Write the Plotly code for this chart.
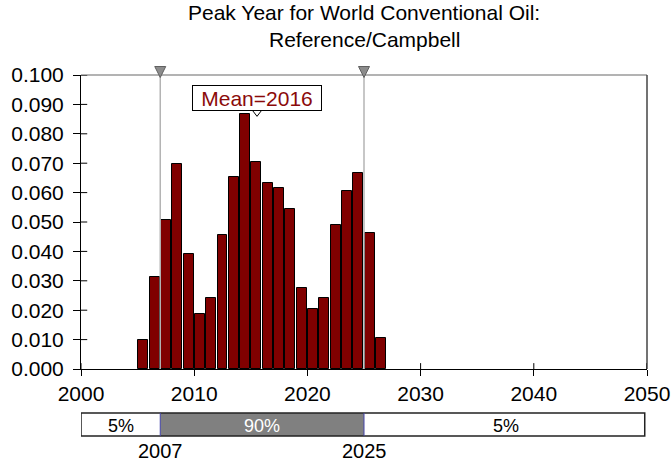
import plotly.graph_objects as go

# Data
bin_left = list(range(2005, 2027))
probs = [0.0097, 0.0312, 0.0508, 0.0696, 0.0392, 0.0186, 0.0240, 0.0456, 0.0652, 0.0866,
         0.0705, 0.0634, 0.0616, 0.0543, 0.0276, 0.0204, 0.0240, 0.0491, 0.0607, 0.0668,
         0.0464, 0.0107]
p5 = 2007
p95 = 2025
mean_val = 2015.55
mean_label = "Mean=2016"
y_ticks = [0.0, 0.01, 0.02, 0.03, 0.04, 0.05, 0.06, 0.07, 0.08, 0.09, 0.10]
x_ticks = [2000, 2010, 2020, 2030, 2040, 2050]
title_lines = ["Peak Year for World Conventional Oil:", "Reference/Campbell"]

FONT = "Liberation Sans, Arial, Helvetica, sans-serif"
FS = 21
PH = 294.0          # plot height px
PW = 566.5          # plot width px
X0, X1 = 2000, 2050


def py(px):
    """paper y from pixel y (top-origin)"""
    return (369.0 - px) / PH


def dx(px):
    """x data span for a pixel span"""
    return px * (X1 - X0) / PW


fig = go.Figure()
fig.add_trace(go.Bar(
    x=[b + 0.5 for b in bin_left], y=probs, width=0.88,
    marker=dict(color="#800000", line=dict(color="black", width=1)),
    showlegend=False, hoverinfo="skip"))

for v in (p5, p95):
    fig.add_shape(type="line", x0=v, x1=v, y0=0, y1=0.1, xref="x", yref="y",
                  line=dict(color="#b4b4b4", width=1.5), layer="above")

fig.add_shape(type="line", x0=0, x1=1, y0=1, y1=1, xref="paper", yref="paper",
              line=dict(color="#9a9a9a", width=1.5))
fig.add_shape(type="line", x0=1, x1=1, y0=0, y1=1, xref="paper", yref="paper",
              line=dict(color="#444444", width=1.5))

for t in y_ticks[1:]:
    fig.add_shape(type="line", x0=0, x1=0.011, y0=t, y1=t, xref="paper", yref="y",
                  line=dict(color="black", width=1))
for t in x_ticks:
    fig.add_shape(type="line", x0=t, x1=t, y0=0, y1=0.02, xref="x", yref="paper",
                  line=dict(color="black", width=1))

# gray percentile triangles on the top edge
for v in (p5, p95):
    h = dx(5.5)
    ytop, ybot = py(66.5), py(77.5)
    fig.add_shape(type="path", xref="x", yref="paper",
                  path=f"M {v - h},{ytop} L {v + h},{ytop} L {v},{ybot} Z",
                  fillcolor="#8c8c8c", line=dict(color="#606060", width=1),
                  layer="above")

fig.add_trace(go.Scatter(
    x=[mean_val], y=[0.0873], mode="markers",
    marker=dict(symbol="triangle-down", size=8, color="white",
                line=dict(color="black", width=1)),
    cliponaxis=False, showlegend=False, hoverinfo="skip"))

fig.add_annotation(x=mean_val, y=0.0923, xref="x", yref="y", text=mean_label,
                   showarrow=False, font=dict(family=FONT, size=FS, color="#8b0a0a"),
                   bgcolor="white", bordercolor="black", borderwidth=1, borderpad=1,
                   width=126, height=22, xanchor="center", yanchor="middle")

# title
for t, pyx in zip(title_lines, (12, 39)):
    fig.add_annotation(x=0.5, y=py(pyx), xref="paper", yref="paper", text=t,
                       showarrow=False, xanchor="center", yanchor="middle",
                       font=dict(family=FONT, size=FS, color="black"))

# bottom percentile bar
yb0, yb1 = py(436), py(413)
segs = [(2000, p5, "white"), (p5, p95, "#808080"), (p95, 2049.8, "white")]
for a, b, c in segs:
    fig.add_shape(type="rect", x0=a, x1=b, y0=yb0, y1=yb1, xref="x", yref="paper",
                  fillcolor=c, line=dict(width=0))
fig.add_shape(type="rect", x0=2000, x1=2049.8, y0=yb0, y1=yb1, xref="x", yref="paper",
              fillcolor="rgba(0,0,0,0)", line=dict(color="#222222", width=1.5))
for v in (p5, p95):
    fig.add_shape(type="line", x0=v, x1=v, y0=yb0, y1=yb1, xref="x", yref="paper",
                  line=dict(color="#4444aa", width=1))
pct_labels = [((2000 + p5) / 2, "5%", "black"), ((p5 + p95) / 2, "90%", "white"),
              ((p95 + 2050) / 2, "5%", "black")]
for xc, t, c in pct_labels:
    fig.add_annotation(x=xc, y=py(425.5), xref="x", yref="paper", text=t,
                       showarrow=False, xanchor="center", yanchor="middle",
                       font=dict(family=FONT, size=18, color=c))
for v in (p5, p95):
    fig.add_annotation(x=v, y=py(451), xref="x", yref="paper", text=str(v),
                       showarrow=False, xanchor="center", yanchor="middle",
                       font=dict(family=FONT, size=20, color="black"))

fig.update_layout(
    width=672, height=464,
    margin=dict(l=80.5, r=25, t=75, b=95, autoexpand=False),
    paper_bgcolor="white", plot_bgcolor="white",
    font=dict(family=FONT, size=FS, color="black"),
    bargap=0,
    xaxis=dict(range=[X0, X1], tickvals=x_ticks, ticks="outside", ticklen=6,
               tickcolor="black", showline=True, linecolor="black", linewidth=1,
               showgrid=False, zeroline=False, tickfont=dict(size=FS), automargin=False),
    yaxis=dict(range=[0, 0.1], tickvals=y_ticks, tickformat=".3f", ticks="outside",
               ticklen=7, tickcolor="black", showline=True, linecolor="black",
               linewidth=1, showgrid=False, zeroline=False, tickfont=dict(size=FS),
               ticklabelstandoff=5, automargin=False),
)

fig.write_html("out.html")
